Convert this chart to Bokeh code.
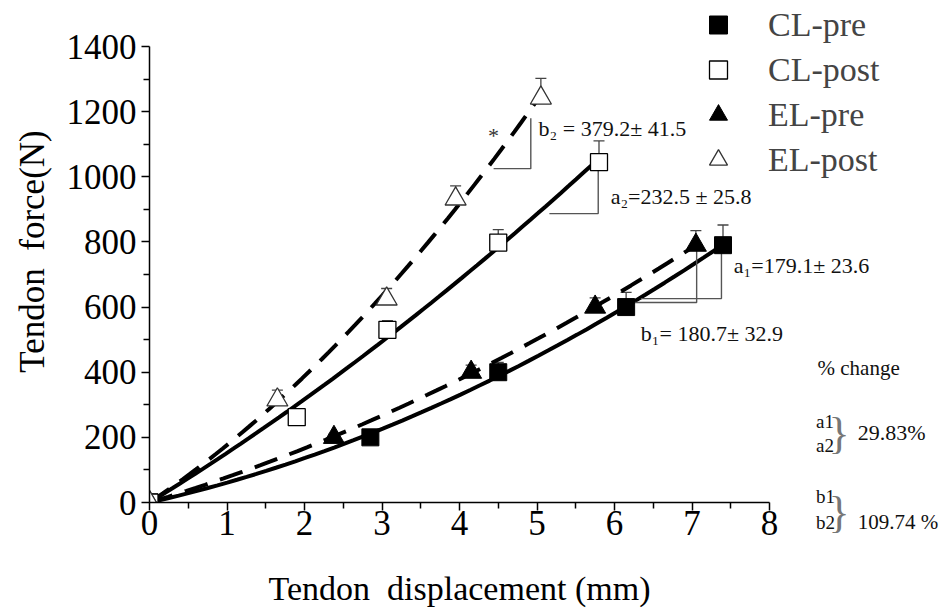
import numpy as np
from bokeh.plotting import figure
from bokeh.models import Range1d, FixedTicker, Legend, LegendItem, Whisker, ColumnDataSource, TeeHead
from bokeh.core.properties import value
from bokeh.embed import file_html
from bokeh.resources import INLINE

# ---- data ----
cl_pre_x = [0, 2.85, 4.5, 6.15, 7.4]
cl_pre_y = [0, 200, 400, 600, 790]
cl_pre_err = [0, 10, 30, 45, 62]
el_pre_x = [0, 2.38, 4.15, 5.75, 7.05]
el_pre_y = [0, 200, 400, 600, 790]
el_pre_err = [0, 10, 22, 28, 45]
cl_post_x = [0, 1.9, 3.07, 4.5, 5.8]
cl_post_y = [0, 262, 530, 798, 1045]
cl_post_err = [0, 12, 28, 40, 65]
el_post_x = [0, 1.65, 3.06, 3.95, 5.05]
el_post_y = [0, 315, 625, 932, 1242]
el_post_err = [0, 30, 32, 40, 60]

x_ticks = [0, 1, 2, 3, 4, 5, 6, 7, 8]
y_ticks = [0, 200, 400, 600, 800, 1000, 1200, 1400]
x_title = "Tendon\u00a0 displacement (mm)"
y_title = "Tendon\u00a0 force(N)"

# slope annotations (bracket corners) and texts
brackets = {
    "b2": ([4.44, 4.92, 4.92], [1025, 1025, 1180]),
    "a2": ([5.16, 5.79, 5.79], [887, 887, 1045]),
    "a1": ([6.34, 7.38, 7.38], [626, 626, 790]),
    "b1": ([6.21, 7.06, 7.06], [614, 614, 790]),
}
ann_text = ["b\u2082 = 379.2\u00b1 41.5", "a\u2082=232.5 \u00b1 25.8", "a\u2081=179.1\u00b1 23.6", "b\u2081= 180.7\u00b1 32.9"]
ann_x = [5.02, 5.95, 7.54, 6.34]
ann_y = [1148, 940, 727, 518]

side_text = ["% change", "a1", "a2", "29.83%", "b1", "b2", "109.74 %"]
side_x = [8.62, 8.6, 8.6, 9.14, 8.6, 8.6, 9.14]
side_y = [412, 250, 176, 215, 18, -61, -61]
side_size = ["21px", "19px", "19px", "22px", "19px", "19px", "21px"]
brace_x = [8.76, 8.76]
brace_y = [213, -31]

FONT = "Liberation Serif"
PX_PER_N = 456 / 1400

p = figure(width=940, height=610, output_backend="svg", toolbar_location=None,
           x_range=Range1d(0, 791 / 77.5), y_range=Range1d(0, 502 / PX_PER_N),
           min_border_left=149, min_border_top=0, min_border_bottom=108, min_border_right=0)
p.outline_line_color = None
p.grid.visible = False
p.background_fill_color = "white"


def fit(xs, ys):
    xs = np.asarray(xs, float); ys = np.asarray(ys, float)
    A = np.column_stack([xs, xs ** 2])
    coef, *_ = np.linalg.lstsq(A, ys, rcond=None)
    xx = np.linspace(0, xs.max(), 60)
    return xx, coef[0] * xx + coef[1] * xx ** 2


for xs, ys, dash in [(cl_pre_x, cl_pre_y, "solid"), (el_pre_x, el_pre_y, "24 13"),
                     (cl_post_x, cl_post_y, "solid"), (el_post_x, el_post_y, "24 13")]:
    fx, fy = fit(xs, ys)
    p.line(fx, fy, line_color="black", line_width=4, line_dash=dash)

for k, (bx, by) in brackets.items():
    p.line(bx, by, line_color="#555555", line_width=1.4)

for xs, ys, es in [(cl_pre_x, cl_pre_y, cl_pre_err), (el_pre_x, el_pre_y, el_pre_err),
                   (cl_post_x, cl_post_y, cl_post_err), (el_post_x, el_post_y, el_post_err)]:
    src = ColumnDataSource(dict(x=xs, lo=ys, hi=[y + e for y, e in zip(ys, es)]))
    w = Whisker(source=src, base="x", lower="lo", upper="hi", line_color="#444444", line_width=1.3,
                lower_head=None, upper_head=TeeHead(size=11, line_color="#444444", line_width=1.3))
    p.add_layout(w)

r1 = p.scatter(cl_pre_x, cl_pre_y, marker="square", size=17, fill_color="black", line_color="black")
r2 = p.scatter(cl_post_x, cl_post_y, marker="square", size=17, fill_color="white", line_color="black", line_width=1.3)
r3 = p.scatter(el_pre_x, el_pre_y, marker="triangle", size=21, fill_color="black", line_color="black")
r4 = p.scatter(el_post_x, el_post_y, marker="triangle", size=21, fill_color="white", line_color="#333333", line_width=1.3)

p.text(ann_x, ann_y, text=ann_text, text_font=value(FONT), text_font_size="22px",
       text_baseline="middle", text_color="#111111")
p.text([4.44], [1128], text=["*"], text_font=value(FONT), text_font_size="22px",
       text_align="center", text_baseline="middle", text_color="#333333")

for t, x, y, s in zip(side_text, side_x, side_y, side_size):
    p.text([x], [y], text=[t], text_font=value(FONT), text_font_size=s,
           text_baseline="middle", text_color="#111111", level="overlay")
p.text(brace_x, brace_y, text=["}", "}"], text_font=value(FONT), text_font_size="44px",
       text_baseline="middle", text_color="#777777", level="overlay")

# x-axis title, centred under the 0..8 axis span
p.text([(x_ticks[0] + x_ticks[-1]) / 2], [-86 / PX_PER_N], text=[x_title], text_font=value(FONT),
       text_font_size="34px", text_align="center", text_baseline="middle", text_color="black",
       level="overlay")

legend = Legend(items=[LegendItem(label="CL-pre", renderers=[r1]), LegendItem(label="CL-post", renderers=[r2]),
                       LegendItem(label="EL-pre", renderers=[r3]), LegendItem(label="EL-post", renderers=[r4])],
                location=(544, 320), padding=0, margin=0, spacing=0, glyph_width=50, glyph_height=45,
                label_standoff=25, label_text_font=FONT, label_text_font_size="34px",
                border_line_color=None, background_fill_alpha=0)
p.add_layout(legend)

for ax in (p.xaxis[0], p.yaxis[0]):
    ax.axis_line_color = "black"
    ax.axis_line_width = 1.5
    ax.major_tick_line_color = "black"
    ax.minor_tick_line_color = "black"
    ax.major_tick_line_width = 1.5
    ax.minor_tick_line_width = 1.5
    ax.major_tick_out = 8
    ax.major_tick_in = 0
    ax.minor_tick_out = 6
    ax.minor_tick_in = 0
    ax.major_label_text_font = FONT
    ax.major_label_text_font_size = "35px"
    ax.major_label_text_color = "black"
    ax.axis_label_text_font = FONT
    ax.axis_label_text_font_size = "35px"
    ax.axis_label_text_font_style = "normal"
    ax.axis_label_text_color = "black"

p.xaxis.ticker = FixedTicker(ticks=x_ticks, minor_ticks=[v + 0.5 for v in x_ticks[:-1]])
p.xaxis.bounds = (0, 8)
p.yaxis.ticker = FixedTicker(ticks=y_ticks, minor_ticks=[v + 100 for v in y_ticks[:-1]])
p.yaxis.bounds = (0, 1400)
p.yaxis.axis_label = y_title
p.xaxis.major_label_standoff = 0
p.yaxis.major_label_standoff = 5
p.yaxis.axis_label_standoff = 12

open("out.html", "w").write(file_html(p, INLINE))
